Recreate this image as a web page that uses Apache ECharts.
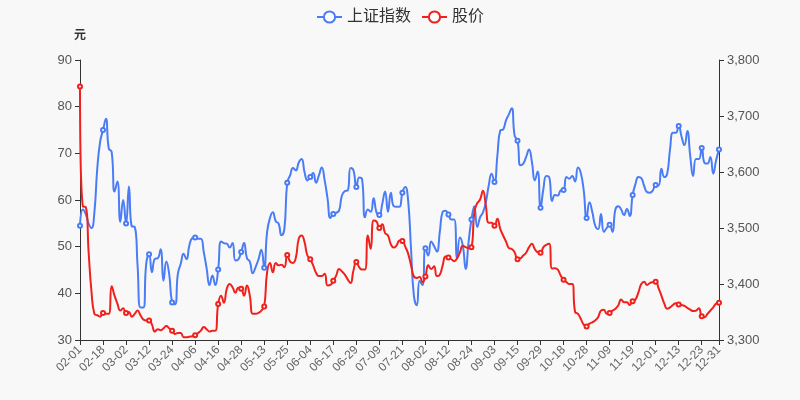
<!DOCTYPE html>
<html>
<head>
<meta charset="utf-8">
<script src="https://cdn.jsdelivr.net/npm/echarts@6/dist/echarts.min.js"></script>
<style>html,body{margin:0;padding:0;background:#f8f8f8;}#c{width:800px;height:400px;}</style>
</head>
<body>
<div id="c"></div>
<script>
var dates = [
'02-01','02-02','02-03','02-04','02-05','02-08','02-09','02-10','02-18','02-19','02-22','02-23','02-24','02-25','02-26',
'03-01','03-02','03-03','03-04','03-05','03-08','03-09','03-10','03-11','03-12','03-15','03-16','03-17','03-18','03-19','03-22','03-23','03-24','03-25','03-26','03-29','03-30','03-31',
'04-01','04-02','04-06','04-07','04-08','04-09','04-12','04-13','04-14','04-15','04-16','04-19','04-20','04-21','04-22','04-23','04-26','04-27','04-28','04-29','04-30',
'05-06','05-07','05-10','05-11','05-12','05-13','05-14','05-17','05-18','05-19','05-20','05-21','05-24','05-25','05-26','05-27','05-28','05-31',
'06-01','06-02','06-03','06-04','06-07','06-08','06-09','06-10','06-11','06-15','06-16','06-17','06-18','06-21','06-22','06-23','06-24','06-25','06-28','06-29','06-30',
'07-01','07-02','07-05','07-06','07-07','07-08','07-09','07-12','07-13','07-14','07-15','07-16','07-19','07-20','07-21','07-22','07-23','07-26','07-27','07-28','07-29','07-30',
'08-02','08-03','08-04','08-05','08-06','08-09','08-10','08-11','08-12','08-13','08-16','08-17','08-18','08-19','08-20','08-23','08-24','08-25','08-26','08-27','08-30','08-31',
'09-01','09-02','09-03','09-06','09-07','09-08','09-09','09-10','09-13','09-14','09-15','09-16','09-17','09-22','09-23','09-24','09-27','09-28','09-29','09-30',
'10-08','10-11','10-12','10-13','10-14','10-15','10-18','10-19','10-20','10-21','10-22','10-25','10-26','10-27','10-28','10-29',
'11-01','11-02','11-03','11-04','11-05','11-08','11-09','11-10','11-11','11-12','11-15','11-16','11-17','11-18','11-19','11-22','11-23','11-24','11-25','11-26','11-29','11-30',
'12-01','12-02','12-03','12-06','12-07','12-08','12-09','12-10','12-13','12-14','12-15','12-16','12-17','12-20','12-21','12-22','12-23','12-24','12-27','12-28','12-29','12-30','12-31'
];

var indexValues = [
3504,3533,3525,3508,3500,3528,3606,3654,3675,3695,
3642,3636,3565,3583,3511,3550,3508,3574,3503,3502,
3433,3358,3358,3436,3453,3421,3445,3446,3462,3406,
3440,3417,3367,3364,3418,3436,3454,3444,3469,3482,
3483,3481,3481,3457,3428,3398,3415,3398,3426,3476,
3473,3472,3465,3473,3442,3444,3457,3473,3446,3440,
3419,3430,3444,3461,3429,3493,3518,3528,3512,3508,
3487,3498,3581,3594,3607,3603,3617,3623,3600,3585,
3591,3598,3581,3594,3608,3585,3553,3518,3525,3527,
3531,3558,3566,3567,3607,3603,3573,3590,3587,3519,
3533,3529,3553,3528,3523,3543,3565,3529,3563,3539,
3538,3538,3563,3573,3549,3463,3379,3362,3406,3398,
3464,3451,3476,3468,3458,3493,3529,3531,3524,3515,
3515,3446,3483,3468,3427,3475,3515,3539,3502,3519,
3528,3546,3576,3597,3582,3629,3674,3676,3692,3703,
3714,3665,3656,3612,3615,3627,3640,3618,3585,3601,
3536,3570,3593,3591,3548,3559,3558,3567,3568,3591,
3588,3593,3583,3608,3598,3567,3518,3546,3528,3504,
3498,3525,3493,3500,3506,3493,3533,3539,3533,3523,
3534,3521,3559,3579,3591,3589,3575,3564,3563,3567,
3577,3576,3606,3591,3597,3641,3670,3670,3682,3663,
3648,3673,3629,3593,3623,3623,3643,3616,3615,3627,
3597,3621,3640
];

var priceValues = [
84.3,58.6,58.5,48.8,40.3,35.6,35.3,35.0,35.8,35.6,
35.6,41.5,39.5,37.8,36.3,36.8,35.8,36.0,35.0,35.6,
36.3,35.3,34.4,34.2,34.2,33.3,31.8,32.3,32.1,32.5,
33.0,32.5,32.0,31.3,31.5,31.5,30.6,30.6,30.7,30.8,
31.0,31.5,32.0,32.8,32.3,31.8,32.0,32.0,37.7,39.5,
38.0,41.0,42.0,41.3,40.1,41.2,41.0,39.5,41.7,39.5,
35.6,35.6,35.8,36.3,37.2,44.5,46.5,44.5,46.5,46.0,
46.1,45.6,48.2,46.8,46.5,47.7,51.7,52.4,51.0,48.1,
47.3,46.0,44.4,43.7,43.7,44.2,41.7,41.8,42.7,43.8,
45.2,44.7,44.0,43.0,42.2,44.9,46.7,45.6,45.1,45.1,
52.4,49.5,55.6,55.4,54.0,54.8,52.9,52.4,50.5,49.8,
50.3,51.3,51.2,50.0,48.5,46.0,43.6,43.3,43.5,42.4,
43.6,46.0,45.2,45.8,43.7,44.0,46.0,47.9,47.7,47.3,
46.9,47.5,48.8,50.2,49.9,49.7,49.9,57.4,59.3,60.1,
62.0,58.8,55.1,55.1,54.5,56.0,53.8,52.4,51.1,49.7,
49.5,48.8,47.3,47.5,48.1,48.7,49.9,50.6,49.5,48.8,
48.7,49.9,50.4,50.6,45.3,45.4,45.1,43.8,42.9,42.4,
42.0,42.0,36.0,35.6,34.5,33.3,32.9,33.5,33.8,34.2,
34.9,36.3,36.5,35.6,35.8,36.3,36.7,37.4,38.7,38.1,
38.1,37.5,38.3,38.7,40.2,42.0,42.5,41.8,42.2,42.4,
42.5,41.1,39.5,37.8,36.7,37.0,37.5,37.9,37.6,37.5,
37.3,36.9,36.5,36.2,36.3,36.8,35.1,34.9,35.6,36.3,
37.0,37.8,38.0
];

var seriesNames = ['上证指数', '股价'];
var LAST = dates.length - 1;
function shown(i) { return i % 8 === 0 || i === LAST; }
function symSize(v, p) { return shown(p.dataIndex) ? 4 : 0; }

var chart = echarts.init(document.getElementById('c'), null, {renderer: 'canvas'});
chart.setOption({
  backgroundColor: '#f8f8f8',
  animation: false,
  textStyle: {fontFamily: 'Liberation Sans, Noto Sans CJK SC, sans-serif'},
  legend: {
    top: 4, left: 'center', itemWidth: 25, itemHeight: 14, itemGap: 10,
    textStyle: {fontSize: 16, color: '#333'},
    data: seriesNames
  },
  grid: {left: 80, right: 81, top: 60, bottom: 60},
  xAxis: {
    type: 'category', boundaryGap: false, data: dates,
    axisLine: {lineStyle: {color: '#333'}},
    axisTick: {interval: function (i) { return shown(i); }},
    axisLabel: {interval: function (i) { return shown(i); }, rotate: 45, fontSize: 12, color: '#666', margin: 8}
  },
  yAxis: [{
    type: 'value', name: '元', min: 30, max: 90, interval: 10, position: 'left',
    nameGap: 18, nameTextStyle: {fontWeight: 'bold', color: '#333', fontSize: 12},
    axisLine: {show: true, lineStyle: {color: '#333'}},
    axisTick: {show: true},
    axisLabel: {fontSize: 13, color: '#555'},
    splitLine: {show: false}
  }, {
    type: 'value', min: 3300, max: 3800, interval: 100, position: 'right',
    axisLine: {show: true, lineStyle: {color: '#333'}},
    axisTick: {show: true},
    axisLabel: {fontSize: 13, color: '#555'},
    splitLine: {show: false}
  }],
  series: [{
    name: seriesNames[0], type: 'line', yAxisIndex: 1, data: indexValues,
    smooth: true, showAllSymbol: true, symbol: 'emptyCircle', symbolSize: symSize,
    itemStyle: {color: '#4a7cf6', borderWidth: 1}, lineStyle: {width: 2, color: '#4a7cf6'}
  }, {
    name: seriesNames[1], type: 'line', yAxisIndex: 0, data: priceValues,
    smooth: true, showAllSymbol: true, symbol: 'emptyCircle', symbolSize: symSize,
    itemStyle: {color: '#f0211c', borderWidth: 1}, lineStyle: {width: 2, color: '#f0211c'}
  }]
});
</script>
</body>
</html>
